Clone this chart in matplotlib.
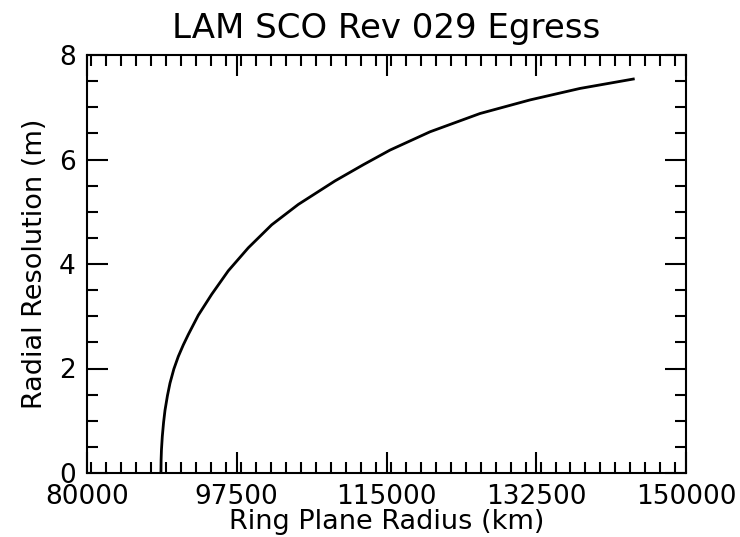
import matplotlib
matplotlib.use("Agg")
import matplotlib.pyplot as plt
from matplotlib.ticker import MultipleLocator

# Ring plane radius (km) and radial resolution (m) along the egress profile
radius_km = [88640, 88660, 88700, 88800, 88950, 89115, 89400, 89699, 90150,
             90669, 91250, 91838, 93007, 94573, 96512, 98850, 101584, 104692,
             108981, 112289, 115409, 120083, 125926, 131769, 137612, 143842]
resolution_m = [0.0, 0.25, 0.44, 0.70, 0.97, 1.20, 1.48, 1.72, 1.99,
                2.23, 2.45, 2.65, 3.02, 3.42, 3.87, 4.31, 4.75, 5.14,
                5.59, 5.90, 6.18, 6.53, 6.88, 7.14, 7.36, 7.54]

x_ticks = [80000, 97500, 115000, 132500, 150000]
y_ticks = [0, 2, 4, 6, 8]

fig = plt.figure(figsize=(7.40, 5.37), dpi=100)
ax = fig.add_axes([87 / 740, 64 / 537, 599 / 740, 418 / 537])

ax.plot(radius_km, resolution_m, color="black", linewidth=2.0)

ax.set_xlim(80000, 150000)
ax.set_ylim(0, 8)
ax.set_xticks(x_ticks)
ax.set_xticklabels([str(t) for t in x_ticks])
ax.set_yticks(y_ticks)
ax.set_yticklabels([str(t) for t in y_ticks])
ax.xaxis.set_minor_locator(MultipleLocator(1750))
ax.yaxis.set_minor_locator(MultipleLocator(0.5))

ax.tick_params(which="both", direction="in", top=True, right=True,
               width=1.5, labelsize=19, pad=8)
ax.tick_params(which="major", length=15)
ax.tick_params(which="minor", length=8)
for spine in ax.spines.values():
    spine.set_linewidth(1.5)

ax.set_title("LAM SCO Rev 029 Egress", fontsize=24.5, pad=12)
ax.set_xlabel("Ring Plane Radius (km)", fontsize=19.5, labelpad=-1)
ax.set_ylabel("Radial Resolution (m)", fontsize=19.5, labelpad=8)

fig.savefig("out.png", dpi=100)
